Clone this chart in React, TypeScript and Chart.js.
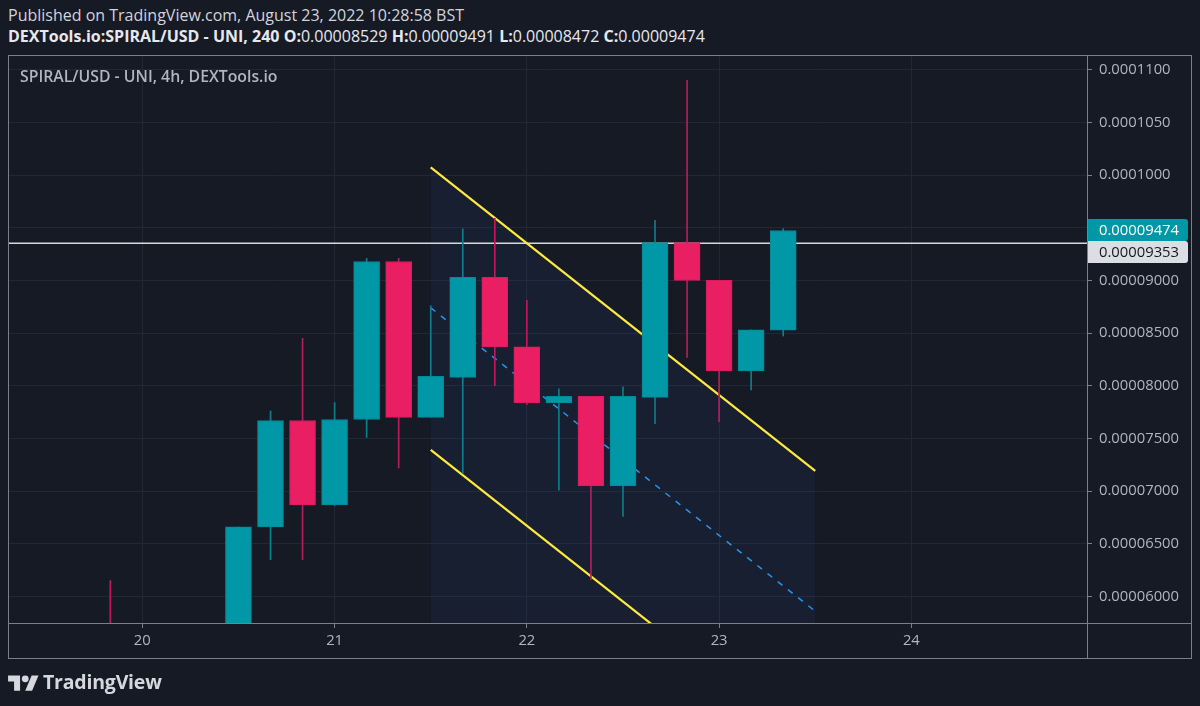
import React, { useEffect, useRef } from "react";
import { Chart, registerables } from "chart.js";

Chart.register(...registerables);

// ---- data -------------------------------------------------------------
// 4-hour candle slot, counted from 20 Aug 00:00
const SLOTS = [-1, 3, 4, 5, 6, 7, 8, 9, 10, 11, 12, 13, 14, 15, 16, 17, 18, 19, 20];
const OPEN = [0.0000565, 0.000057, 0.0000666, 0.0000767, 0.0000687, 0.0000768, 0.0000918, 0.000077, 0.0000808, 0.0000903, 0.0000837, 0.0000784, 0.000079, 0.0000705, 0.0000789, 0.0000936, 0.00009, 0.0000814, 0.00008529];
const HIGH = [0.0000615, 0.0000666, 0.0000776, 0.0000845, 0.0000784, 0.0000921, 0.0000921, 0.0000876, 0.0000949, 0.0000959, 0.0000881, 0.0000797, 0.000079, 0.0000799, 0.0000957, 0.000109, 0.00009, 0.0000853, 0.00009491];
const LOW = [0.000055, 0.0000565, 0.0000635, 0.0000635, 0.0000686, 0.0000751, 0.0000722, 0.000077, 0.0000717, 0.00008, 0.0000782, 0.0000701, 0.0000616, 0.0000676, 0.0000764, 0.0000827, 0.0000766, 0.0000796, 0.00008472];
const CLOSE = [0.000056, 0.0000666, 0.0000767, 0.0000687, 0.0000768, 0.0000918, 0.000077, 0.0000809, 0.0000903, 0.0000837, 0.0000784, 0.000079, 0.0000705, 0.000079, 0.0000936, 0.00009, 0.0000814, 0.0000853, 0.00009474];

// parallel channel drawing (slot -> price)
const CHANNEL_SLOTS = [9, 21];
const CHANNEL_UPPER = [0.00010074, 0.00007193];
const CHANNEL_MID = [0.0000874, 0.0000586];
const CHANNEL_LOWER = [0.00007392, 0.00004511];

// horizontal line
const HLINE = 0.00009353;

// axes
const DAY_START = 20;
const SLOTS_PER_DAY = 6;
const DAY_TICKS = [20, 21, 22, 23, 24];
const PRICE_TICKS = [0.00006, 0.000065, 0.00007, 0.000075, 0.00008, 0.000085, 0.00009, 0.000095, 0.0001, 0.000105, 0.00011];
const X_MIN = 19.3013;
const X_MAX = 24.9136;
const Y_MIN = 0.00005748;
const Y_MAX = 0.0001114;

// ---- styles -----------------------------------------------------------
const BG = "#161a25";
const GRID = "#232733";
const FRAME = "#7c7f89";
const TEXT = "#b2b5be";
const UP = "#0097a7";
const UP_BORDER = "#00899a";
const UP_WICK = "#00838f";
const DOWN = "#e91e63";
const DOWN_BORDER = "#de1a5e";
const DOWN_WICK = "#c2185b";
const FONT = "'Open Sans', 'Noto Sans', sans-serif";
const AXIS_FONT_SIZE = 14.8;

const slotToDay = (s: number) => DAY_START + s / SLOTS_PER_DAY;
const fmtPrice = (v: number) => (v >= 0.0001 - 1e-12 ? v.toFixed(7) : v.toFixed(8));

const overlayPlugin = {
  id: "tvOverlay",
  afterDraw(chart: any) {
    const { ctx, chartArea } = chart;
    const xs = chart.scales.x;
    const ys = chart.scales.y;
    const right = ys.right;
    const bottom = xs.bottom;
    ctx.save();
    ctx.strokeStyle = FRAME;
    ctx.lineWidth = 1;
    ctx.strokeRect(chartArea.left + 0.5, chartArea.top + 0.5, right - chartArea.left - 1, bottom - chartArea.top - 1);
    ctx.beginPath();
    ctx.moveTo(Math.round(chartArea.right) + 0.5, chartArea.top);
    ctx.lineTo(Math.round(chartArea.right) + 0.5, bottom);
    ctx.moveTo(chartArea.left, Math.round(chartArea.bottom) + 0.5);
    ctx.lineTo(right, Math.round(chartArea.bottom) + 0.5);
    ctx.stroke();

    // price labels on the axis
    const boxH = 22;
    const boxW = 100;
    const x0 = Math.round(chartArea.right) + 1;
    const drawBox = (top: number, fill: string, color: string, text: string) => {
      ctx.fillStyle = fill;
      ctx.beginPath();
      const r = 3;
      ctx.moveTo(x0, top);
      ctx.lineTo(x0 + boxW - r, top);
      ctx.quadraticCurveTo(x0 + boxW, top, x0 + boxW, top + r);
      ctx.lineTo(x0 + boxW, top + boxH - r);
      ctx.quadraticCurveTo(x0 + boxW, top + boxH, x0 + boxW - r, top + boxH);
      ctx.lineTo(x0, top + boxH);
      ctx.closePath();
      ctx.fill();
      ctx.fillStyle = color;
      ctx.font = `${AXIS_FONT_SIZE}px ${FONT}`;
      ctx.textAlign = "left";
      ctx.textBaseline = "middle";
      ctx.fillText(text, x0 + 11, top + boxH / 2 + 0.5);
    };
    const last = CLOSE[CLOSE.length - 1];
    const t1 = Math.round(ys.getPixelForValue(last) - boxH / 2);
    drawBox(t1, UP, "#ffffff", fmtPrice(last));
    let t2 = Math.round(ys.getPixelForValue(HLINE) - boxH / 2);
    if (t2 < t1 + boxH) t2 = t1 + boxH;
    drawBox(t2, "#dcdee4", "#131722", fmtPrice(HLINE));
    ctx.restore();
  },
};

export default function App() {
  const ref = useRef<HTMLCanvasElement>(null);

  useEffect(() => {
    const canvas = ref.current;
    if (!canvas) return;
    Chart.defaults.font.family = FONT;

    const candleColors = OPEN.map((o, i) => (CLOSE[i] >= o ? UP : DOWN));
    const borderColors = OPEN.map((o, i) => (CLOSE[i] >= o ? UP_BORDER : DOWN_BORDER));
    const wickColors = OPEN.map((o, i) => (CLOSE[i] >= o ? UP_WICK : DOWN_WICK));

    const bodies = SLOTS.map((s, i) => ({ x: slotToDay(s), y: [OPEN[i], CLOSE[i]] }));
    const wicks = SLOTS.map((s, i) => ({ x: slotToDay(s), y: [LOW[i], HIGH[i]] }));
    const line = (vals: number[]) => CHANNEL_SLOTS.map((s, i) => ({ x: slotToDay(s), y: vals[i] }));

    const chart = new Chart(canvas, {
      type: "bar",
      data: {
        datasets: [
          {
            type: "line",
            data: line(CHANNEL_UPPER),
            borderWidth: 0,
            borderColor: "rgba(0,0,0,0)",
            backgroundColor: "rgba(45,95,190,0.085)",
            fill: "start",
            pointRadius: 0,
            order: 6,
          } as any,
          {
            type: "line",
            data: [
              { x: X_MIN, y: HLINE },
              { x: X_MAX, y: HLINE },
            ],
            borderColor: "#d6d8de",
            borderWidth: 1.5,
            pointRadius: 0,
            order: 5,
          },
          {
            type: "line",
            data: line(CHANNEL_MID),
            borderColor: "#2196f3",
            borderWidth: 1.5,
            borderDash: [6, 7],
            pointRadius: 0,
            order: 4,
          },
          {
            type: "line",
            data: line(CHANNEL_UPPER),
            borderColor: "#ffeb3b",
            borderWidth: 2.2,
            pointRadius: 0,
            order: 3,
          },
          {
            type: "line",
            data: line(CHANNEL_LOWER),
            borderColor: "#ffeb3b",
            borderWidth: 2.2,
            pointRadius: 0,
            order: 3,
          },
          {
            type: "bar",
            data: wicks,
            backgroundColor: wickColors,
            borderWidth: 0,
            barThickness: 1,
            grouped: false,
            order: 1,
          } as any,
          {
            type: "bar",
            data: bodies,
            backgroundColor: candleColors,
            borderColor: borderColors,
            borderWidth: 1,
            borderSkipped: false,
            barThickness: 26,
            grouped: false,
            order: 0,
          } as any,
        ],
      },
      options: {
        animation: false,
        responsive: false,
        devicePixelRatio: 1,
        layout: { padding: { left: 8, top: 55, right: 8, bottom: 47 } },
        plugins: { legend: { display: false }, tooltip: { enabled: false } },
        elements: { line: { tension: 0 } },
        scales: {
          x: {
            type: "linear",
            min: X_MIN,
            max: X_MAX,
            offset: false,
            afterBuildTicks: (s: any) => {
              s.ticks = DAY_TICKS.map((v) => ({ value: v }));
            },
            afterFit: (s: any) => {
              s.height = 36;
            },
            grid: { offset: false, color: GRID, tickColor: FRAME, tickLength: 5, drawTicks: true },
            border: { display: false },
            ticks: {
              autoSkip: false,
              maxRotation: 0,
              padding: 4,
              color: TEXT,
              font: { size: AXIS_FONT_SIZE },
              callback: (v: any) => String(v),
            },
          },
          y: {
            type: "linear",
            position: "right",
            min: Y_MIN,
            max: Y_MAX,
            beginAtZero: false,
            afterBuildTicks: (s: any) => {
              s.ticks = PRICE_TICKS.map((v) => ({ value: v }));
            },
            afterFit: (s: any) => {
              s.width = 105;
            },
            grid: { color: GRID, tickColor: FRAME, tickLength: 5, drawTicks: true },
            border: { display: false },
            ticks: {
              autoSkip: false,
              padding: 7,
              color: TEXT,
              font: { size: AXIS_FONT_SIZE },
              callback: (v: any) => fmtPrice(Number(v)),
            },
          },
        },
      } as any,
      plugins: [overlayPlugin],
    });
    return () => chart.destroy();
  }, []);

  const hdr: React.CSSProperties = {
    position: "absolute",
    left: 8,
    fontSize: 16,
    lineHeight: "20px",
    whiteSpace: "nowrap",
    color: "#d1d4dc",
  };

  return (
    <div
      style={{
        position: "absolute",
        left: 0,
        top: 0,
        width: 1200,
        height: 706,
        background: BG,
        overflow: "hidden",
        fontFamily: FONT,
      }}
    >
      <div style={{ ...hdr, top: 4.5 }}>Published on TradingView.com, August 23, 2022 10:28:58 BST</div>
      <div style={{ ...hdr, top: 25.5, color: "#e6e8ee" }}>
        <b>DEXTools.io:SPIRAL/USD - UNI, 240</b> <b>O:</b>0.00008529 <b>H:</b>0.00009491 <b>L:</b>0.00008472 <b>C:</b>0.00009474
      </div>
      <canvas
        ref={ref}
        width={1200}
        height={706}
        style={{ position: "absolute", left: 0, top: 0, width: 1200, height: 706 }}
      />
      <div
        style={{
          position: "absolute",
          left: 20,
          top: 66,
          fontSize: 15.8,
          lineHeight: "20px",
          fontWeight: 600,
          color: TEXT,
          whiteSpace: "nowrap",
        }}
      >
        SPIRAL/USD - UNI, 4h, DEXTools.io
      </div>
      <svg
        style={{ position: "absolute", left: 8, top: 672 }}
        width={31}
        height={24}
        viewBox="0 0 36 28"
        fill="#d6d8de"
      >
        <path d="M14 22H7V11H0V4h14v18zM28 22h-8l7.5-18h8L28 22z" />
        <circle cx="20" cy="8" r="4" />
      </svg>
      <div
        style={{
          position: "absolute",
          left: 43,
          top: 670,
          fontSize: 19.5,
          lineHeight: "24px",
          fontWeight: 700,
          color: "#d6d8de",
          whiteSpace: "nowrap",
          letterSpacing: -0.2,
        }}
      >
        TradingView
      </div>
    </div>
  );
}
